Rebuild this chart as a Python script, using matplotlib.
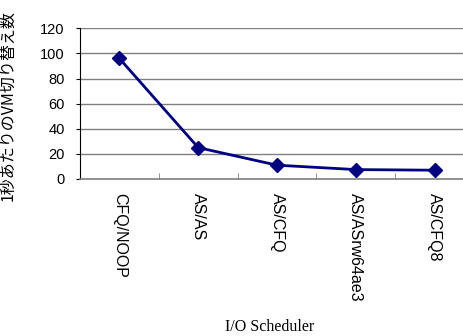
import numpy as np
import matplotlib
matplotlib.use("Agg")
import matplotlib.pyplot as plt

# scheduler combinations and VM switches per second
schedulers = ["CFQ/NOOP", "AS/AS", "AS/CFQ", "AS/ASrw64ae3", "AS/CFQ8"]
switches = [96, 25, 11, 7.5, 7]
y_ticks = [0, 20, 40, 60, 80, 100, 120]

plt.rcParams['font.family'] = ['Liberation Sans', 'Noto Sans CJK JP']

fig = plt.figure(figsize=(4.64, 3.36), dpi=100)
ax = fig.add_axes([80 / 464, 157 / 336, 394 / 464, 150.7 / 336])

x = np.arange(len(schedulers))
ax.plot(x, switches, color='#000080', linewidth=2, marker='D', markersize=7)

ax.set_xlim(-0.5, len(schedulers) - 0.5)
ax.set_ylim(0, 120)
ax.set_yticks(y_ticks)
ax.grid(axis='y', color='#808080', linewidth=1)
ax.set_axisbelow(True)

ax.set_xticks(x)
ax.set_xticklabels(schedulers, rotation=270, fontsize=11.5)
ax.tick_params(axis='x', which='major', length=0, pad=10)
ax.set_xticks(np.arange(-0.5, len(schedulers)), minor=True)
ax.tick_params(axis='x', which='minor', direction='in', length=4.5, color='#808080')
ax.tick_params(axis='y', length=3, pad=8, labelsize=10.5)

for s in ['top', 'right']:
    ax.spines[s].set_visible(False)
ax.spines['left'].set_color('black')
ax.spines['bottom'].set_color('#808080')
ax.spines['bottom'].set_linewidth(1.2)

ax.set_xlabel('I/O Scheduler', fontsize=11.5, family=['Liberation Serif'])
ax.xaxis.set_label_coords((270 - 80) / 394, -(319 - 179) / 150.7)
fig.text(8 / 464, 1 - 106 / 336, '1秒あたりのVM切り替え数', rotation=90,
         fontsize=11.5, family=['Noto Sans CJK JP', 'DejaVu Sans'],
         ha='center', va='center')

fig.savefig('out.png', dpi=100)
